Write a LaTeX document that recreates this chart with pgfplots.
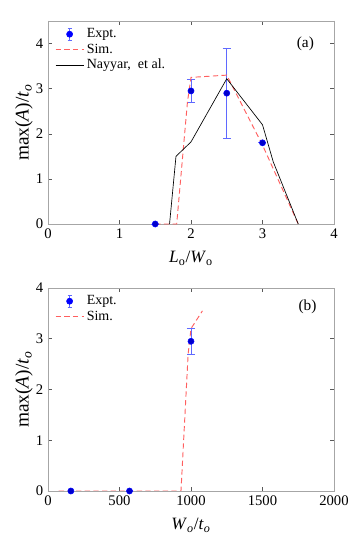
\documentclass[border=0pt]{standalone}
\usepackage{fontspec}
\setmainfont{Liberation Serif}
\usepackage{pgfplots}
\pgfplotsset{compat=1.18}
\usetikzlibrary{calc}

\definecolor{simred}{RGB}{255,95,95}
\definecolor{errblue}{RGB}{95,105,255}

\pgfplotsset{
  panel/.style={
    scale only axis, width=214.5pt, height=152.25pt,
    axis line style={gray!70}, tick style={gray!70!black, thin},
    tick align=inside, major tick length=3pt,
    ticklabel style={font=\rmfamily\fontsize{11}{13}\selectfont},
    /pgf/number format/assume math mode=true,
    /pgf/number format/1000 sep={},
    ylabel={max(\textit{A})/\textit{t}\textsubscript{\textit{o}}},
    ylabel style={font=\fontsize{14.5}{16}\selectfont,
      at={(axis description cs:-0.084,0.5)}, anchor=center},
    xlabel style={font=\fontsize{13}{15}\selectfont,
      at={(axis description cs:0.5,-0.192)}, anchor=base},
    legend style={draw=none, fill=none, at={(axis description cs:0.01,0.99)},
      anchor=north west, font=\fontsize{10.5}{12}\selectfont, row sep=-1pt},
    legend cell align=left,
    legend image code/.code={
      \draw[#1] (0cm,0cm) -- (0.74cm,0cm);},
    ymin=0, ytick={0,1,2,3,4}, yticklabels={0,1,2,3,4},
  },
  expt/.style={only marks, mark=*, mark size=2.3pt, blue,
    error bars/.cd, y dir=both, y explicit,
    error bar style={errblue, line width=0.6pt},
    error mark options={rotate=90, mark size=3pt, errblue, line width=0.6pt},
    /pgfplots/.cd},
  exptlegend/.style={legend image code/.code={
    \draw[errblue, line width=0.6pt] (0.37cm,-0.16cm) -- (0.37cm,0.16cm);
    \draw[errblue, line width=0.6pt] (0.32cm,-0.16cm) -- (0.42cm,-0.16cm);
    \draw[errblue, line width=0.6pt] (0.32cm,0.16cm) -- (0.42cm,0.16cm);
    \fill[blue] (0.37cm,0cm) circle (2.3pt);}},
  sim/.style={simred, dashed, line width=0.7pt, dash pattern=on 4pt off 2.5pt},
}

\begin{document}
\begin{tikzpicture}
\begin{axis}[panel, name=a,
  xmin=0, xmax=4, xtick={0,1,2,3,4}, xticklabels={0,1,2,3,4}, ymax=4.5,
  xlabel={\textit{L}\textsubscript{o}/\textit{W}\textsubscript{o}}]
  \addplot+[exptlegend, expt] coordinates {
    (1.5,0) +- (0,0)
    (2,2.95) +- (0,0.25)
    (2.5,2.9) +- (0,1.0)
    (3,1.8) +- (0,0)
  };
  \addlegendentry{Expt.}
  \addplot[sim] coordinates {
    (1.5,0) (1.8,0) (1.95,2.7) (2,3.25) (2.5,3.3) (3,1.75) (3.5,0)
  };
  \addlegendentry{Sim.}
  \addplot[black, line width=0.5pt] coordinates {
    (1.7,0) (1.79,1.5) (2,1.82) (2.5,3.22) (3,2.2) (3.15,1.38) (3.5,0)
  };
  \addlegendentry{Nayyar,\ \ et al.}
  \node[font=\fontsize{11.5}{13}\selectfont] at (axis cs:3.6,4.0) {(a)};
\end{axis}
\begin{axis}[panel, name=b, at={($(a.south west)+(0,-48pt)$)}, anchor=north west,
  xmin=0, xmax=2000, xtick={0,500,1000,1500,2000},
  xticklabels={0,500,1000,1500,2000}, ymax=4,
  xlabel={\textit{W}\textsubscript{\textit{o}}/\textit{t}\textsubscript{\textit{o}}}]
  \addplot+[exptlegend, expt] coordinates {
    (160,0) +- (0,0)
    (570,0) +- (0,0)
    (1000,2.95) +- (0,0.25)
  };
  \addlegendentry{Expt.}
  \addplot[sim] coordinates {
    (75,0) (930,0) (980,2.7) (1000,3.2) (1080,3.55)
  };
  \addlegendentry{Sim.}
  \node[font=\fontsize{11.5}{13}\selectfont] at (axis cs:1815,3.63) {(b)};
\end{axis}
\pgfresetboundingbox
\path ($(a.north west)+(-36pt,15.75pt)$) rectangle ++(265.5pt,-407.25pt);
\end{tikzpicture}
\end{document}
